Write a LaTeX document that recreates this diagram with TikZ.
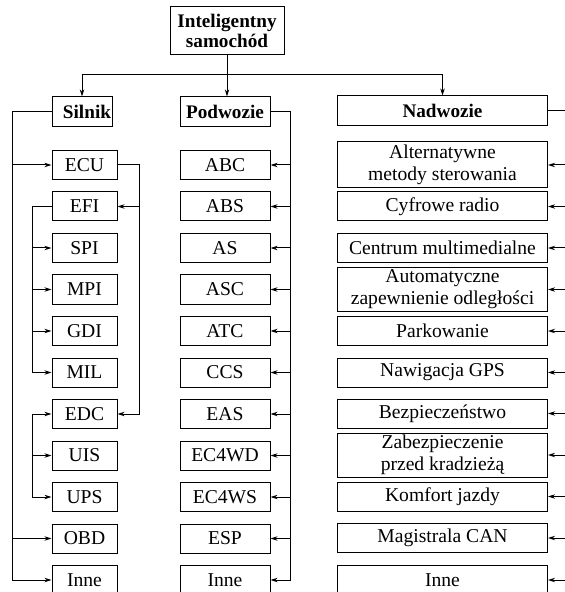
\documentclass[tikz,border=0pt]{standalone}
\usepackage{fontspec}
\setmainfont{Liberation Serif}
\usetikzlibrary{arrows.meta}

\tikzset{
  blok/.style={draw,line width=0.5pt,inner sep=0pt,align=center,
               font=\fontsize{9.8}{11}\selectfont},
  glowny/.style={blok,font=\fontsize{9.6}{10}\selectfont\bfseries,minimum height=15pt},
}

\begin{document}
\begin{tikzpicture}[x=0.5pt,y=-0.5pt]
\useasboundingbox (0,0) rectangle (565,592);

\node[glowny,minimum width=57pt,minimum height=24pt] (C) at (227,31) {Inteligentny\\samochód};

\node[glowny,minimum width=30pt] (S) at (82,112) {\hspace{5pt}Silnik};
\node[glowny,minimum width=45pt] (P) at (225,112) {Podwozie};
\node[glowny,minimum width=105pt] (N) at (442.5,111) {Nadwozie};

% silnik
\begin{scope}[every node/.style={blok,minimum width=32.5pt,minimum height=14.5pt}]
    \node (s1) at (84.5,165) {ECU};
    \node (s2) at (84.5,206.5) {EFI};
    \node (s3) at (84.5,248) {SPI};
    \node (s4) at (84.5,289.5) {MPI};
    \node (s5) at (84.5,331) {GDI};
    \node (s6) at (84.5,372.5) {MIL};
    \node (s7) at (84.5,414) {EDC};
    \node (s8) at (84.5,455.5) {UIS};
    \node (s9) at (84.5,497) {UPS};
    \node (s10) at (84.5,538.5) {OBD};
    \node (s11) at (84.5,580) {Inne};
\end{scope}

% podwozie
\begin{scope}[every node/.style={blok,minimum width=45pt,minimum height=14.5pt}]
    \node (p1) at (225,165) {ABC};
    \node (p2) at (225,206.5) {ABS};
    \node (p3) at (225,248) {AS};
    \node (p4) at (225,289.5) {ASC};
    \node (p5) at (225,331) {ATC};
    \node (p6) at (225,372.5) {CCS};
    \node (p7) at (225,414) {EAS};
    \node (p8) at (225,455.5) {EC4WD};
    \node (p9) at (225,497) {EC4WS};
    \node (p10) at (225,538.5) {ESP};
    \node (p11) at (225,580) {Inne};
\end{scope}

% nadwozie
\begin{scope}[every node/.style={blok,minimum width=105pt,minimum height=14.5pt}]
    \node[minimum height=23pt] (n1) at (442.5,165) {Alternatywne\\metody sterowania};
    \node (n2) at (442.5,206.5) {Cyfrowe radio};
    \node (n3) at (442.5,248) {Centrum multimedialne};
    \node[minimum height=21.5pt] (n4) at (442.5,289.5) {Automatyczne\\zapewnienie odległości};
    \node[text depth=-1.5pt] (n5) at (442.5,331) {Parkowanie};
    \node (n6) at (442.5,372.5) {Nawigacja GPS};
    \node (n7) at (442.5,413.5) {Bezpieczeństwo};
    \node[minimum height=22pt] (n8) at (442.5,455) {Zabezpieczenie\\przed kradzieżą};
    \node (n9) at (442.5,496.5) {Komfort jazdy};
    \node (n10) at (442.5,538) {Magistrala CAN};
    \node (n11) at (442.5,580) {Inne};
\end{scope}

\coordinate (T) at (227,75);
\coordinate (sb) at (12,112);
\coordinate (eb) at (139,165);
\coordinate (fb) at (32,206.5);
\coordinate (db) at (32,414);
\coordinate (pb) at (290,112);
\coordinate (nb) at (566,111);

\begin{scope}[>={Stealth[length=3.5pt,width=2.2pt]},line width=0.5pt]
    \draw (C) -- (T);
    \draw [->] (T) -- (T |- P.north);
    \draw [->] (T) -| (S);
    \draw [->] (T) -| (N);

    \draw [->] (S.west) -- (sb) |- (s11.west);
    \draw [->] (sb |- s1) -- (s1.west);
    \draw [->] (sb |- s10) -- (s10.west);

    \draw [->] (s1.east) -- (eb) |- (s7.east);
    \draw [->] (eb |- s2) -- (s2.east);

    \draw [->] (s2.west) -- (fb) |- (s6.west);
    \draw [->] (fb |- s3) -- (s3.west);
    \draw [->] (fb |- s4) -- (s4.west);
    \draw [->] (fb |- s5) -- (s5.west);

    \draw [->] (db) -- (s7.west);
    \draw [->] (db) |- (s9.west);
    \draw [->] (db |- s8) -- (s8.west);

    \draw [->] (P.east) -- (pb) |- (p11.east);
    \draw [->] (pb |- p1) -- (p1.east);
    \draw [->] (pb |- p2) -- (p2.east);
    \draw [->] (pb |- p3) -- (p3.east);
    \draw [->] (pb |- p4) -- (p4.east);
    \draw [->] (pb |- p5) -- (p5.east);
    \draw [->] (pb |- p6) -- (p6.east);
    \draw [->] (pb |- p7) -- (p7.east);
    \draw [->] (pb |- p8) -- (p8.east);
    \draw [->] (pb |- p9) -- (p9.east);
    \draw [->] (pb |- p10) -- (p10.east);

    \draw [->] (N.east) -- (nb) |- (n11.east);
    \draw [->] (nb |- n1) -- (n1.east);
    \draw [->] (nb |- n2) -- (n2.east);
    \draw [->] (nb |- n3) -- (n3.east);
    \draw [->] (nb |- n4) -- (n4.east);
    \draw [->] (nb |- n5) -- (n5.east);
    \draw [->] (nb |- n6) -- (n6.east);
    \draw [->] (nb |- n7) -- (n7.east);
    \draw [->] (nb |- n8) -- (n8.east);
    \draw [->] (nb |- n9) -- (n9.east);
    \draw [->] (nb |- n10) -- (n10.east);
\end{scope}
\end{tikzpicture}
\end{document}
